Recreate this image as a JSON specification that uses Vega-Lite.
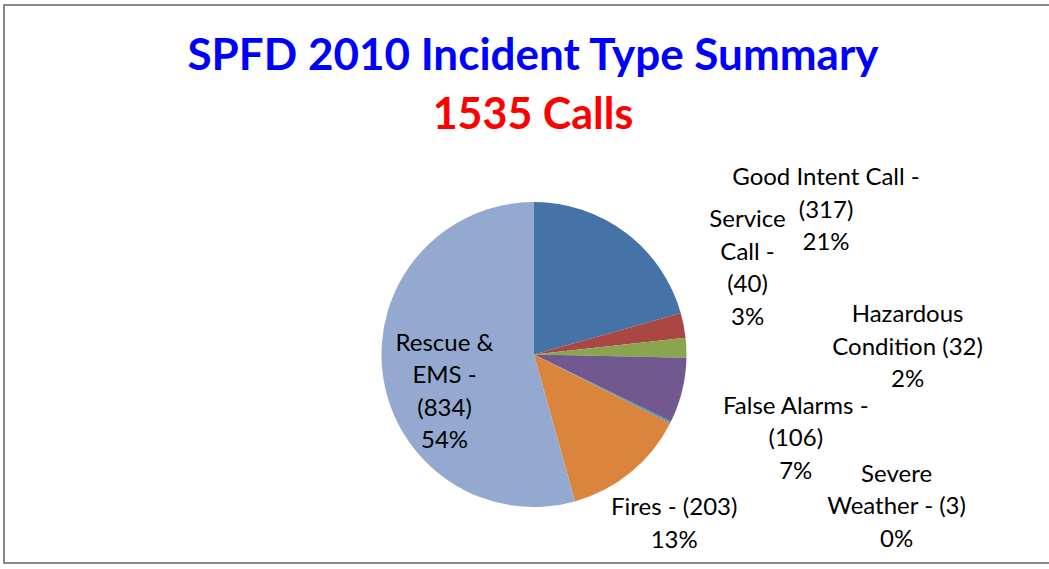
{
  "$schema": "https://vega.github.io/schema/vega-lite/v6.json",
  "width": 1045,
  "height": 558,
  "autosize": {"type": "none"},
  "padding": {"left": 4, "top": 5, "right": 0, "bottom": 6},
  "background": "white",
  "config": {"view": {"stroke": null}},
  "title": {
    "text": "SPFD 2010 Incident Type Summary",
    "subtitle": "1535 Calls",
    "anchor": "middle",
    "frame": "group",
    "orient": "top",
    "offset": -134,
    "dx": 6.5,
    "font": "Lato",
    "fontSize": 44,
    "fontWeight": "bold",
    "color": "#0000FF",
    "subtitleFont": "Lato",
    "subtitleFontSize": 43,
    "subtitleFontWeight": "bold",
    "subtitleColor": "#FF0000",
    "subtitlePadding": 16
  },
  "data": {
    "values": [
      {"category": "Good Intent Call", "count": 317, "order": 1, "label": "Good Intent Call -\n(317)\n21%"},
      {"category": "Service Call", "count": 40, "order": 2, "label": "Service\nCall -\n(40)\n3%"},
      {"category": "Hazardous Condition", "count": 32, "order": 3, "label": "Hazardous\nCondition (32)\n2%"},
      {"category": "False Alarms", "count": 106, "order": 4, "label": "False Alarms -\n(106)\n7%"},
      {"category": "Severe Weather", "count": 3, "order": 5, "label": "Severe\nWeather - (3)\n0%"},
      {"category": "Fires", "count": 203, "order": 6, "label": "Fires - (203)\n13%"},
      {"category": "Rescue & EMS", "count": 834, "order": 7, "label": "Rescue &\nEMS -\n(834)\n54%"}
    ]
  },
  "transform": [
    {"stack": "count", "groupby": [], "sort": [{"field": "order", "order": "ascending"}], "as": ["s0", "s1"]}
  ],
  "layer": [
    {
      "mark": {"type": "rect", "x": 0, "x2": {"expr": "width+8"}, "y": 0, "y2": {"expr": "height"}, "fill": null, "fillOpacity": 0, "stroke": "#8a8a8a", "strokeWidth": 1.5},
      "encoding": {}
    },
    {
      "mark": {"type": "arc", "radius": 152.5, "x": {"expr": "width/2+7.5"}, "y": {"expr": "height/2+70.5"}},
      "encoding": {
        "theta": {"field": "s0", "type": "quantitative", "stack": null, "scale": {"domain": [0, 1535]}},
        "theta2": {"field": "s1"},
        "color": {
          "field": "category",
          "type": "nominal",
          "legend": null,
          "scale": {
            "domain": ["Good Intent Call", "Service Call", "Hazardous Condition", "False Alarms", "Severe Weather", "Fires", "Rescue & EMS"],
            "range": ["#4572A7", "#AA4643", "#89A54E", "#71588F", "#4198AF", "#DB843D", "#93A9CF"]
          }
        }
      }
    },
    {
      "transform": [{"filter": "datum.order == 1"}],
      "mark": {"type": "text", "radius": 152.5, "x": {"expr": "width/2+7.5"}, "y": {"expr": "height/2+70.5"}, "dx": 292, "dy": -24, "font": "Lato", "fontSize": 24, "lineBreak": "\n", "lineHeight": 32.5, "align": "center", "baseline": "middle", "color": "black"},
      "encoding": {"theta": {"field": "s0", "type": "quantitative", "stack": null}, "text": {"field": "label"}}
    },
    {
      "transform": [{"filter": "datum.order == 2"}],
      "mark": {"type": "text", "radius": 152.5, "x": {"expr": "width/2+7.5"}, "y": {"expr": "height/2+70.5"}, "dx": 66.7, "dy": -93.3, "font": "Lato", "fontSize": 24, "lineBreak": "\n", "lineHeight": 32.5, "align": "center", "baseline": "middle", "color": "black"},
      "encoding": {"theta": {"field": "s0", "type": "quantitative", "stack": null}, "text": {"field": "label"}}
    },
    {
      "transform": [{"filter": "datum.order == 3"}],
      "mark": {"type": "text", "radius": 152.5, "x": {"expr": "width/2+7.5"}, "y": {"expr": "height/2+70.5"}, "dx": 222, "dy": -22.8, "font": "Lato", "fontSize": 24, "lineBreak": "\n", "lineHeight": 32.5, "align": "center", "baseline": "middle", "color": "black"},
      "encoding": {"theta": {"field": "s0", "type": "quantitative", "stack": null}, "text": {"field": "label"}}
    },
    {
      "transform": [{"filter": "datum.order == 4"}],
      "mark": {"type": "text", "radius": 152.5, "x": {"expr": "width/2+7.5"}, "y": {"expr": "height/2+70.5"}, "dx": 109.3, "dy": 48.9, "font": "Lato", "fontSize": 24, "lineBreak": "\n", "lineHeight": 32.5, "align": "center", "baseline": "middle", "color": "black"},
      "encoding": {"theta": {"field": "s0", "type": "quantitative", "stack": null}, "text": {"field": "label"}}
    },
    {
      "transform": [{"filter": "datum.order == 5"}],
      "mark": {"type": "text", "radius": 152.5, "x": {"expr": "width/2+7.5"}, "y": {"expr": "height/2+70.5"}, "dx": 225.6, "dy": 53.4, "font": "Lato", "fontSize": 24, "lineBreak": "\n", "lineHeight": 32.5, "align": "center", "baseline": "middle", "color": "black"},
      "encoding": {"theta": {"field": "s0", "type": "quantitative", "stack": null}, "text": {"field": "label"}}
    },
    {
      "transform": [{"filter": "datum.order == 6"}],
      "mark": {"type": "text", "radius": 152.5, "x": {"expr": "width/2+7.5"}, "y": {"expr": "height/2+70.5"}, "dx": 4.1, "dy": 85, "font": "Lato", "fontSize": 24, "lineBreak": "\n", "lineHeight": 32.5, "align": "center", "baseline": "middle", "color": "black"},
      "encoding": {"theta": {"field": "s0", "type": "quantitative", "stack": null}, "text": {"field": "label"}}
    },
    {
      "transform": [{"filter": "datum.order == 7"}],
      "mark": {"type": "text", "radius": 152.5, "x": {"expr": "width/2+7.5"}, "y": {"expr": "height/2+70.5"}, "dx": -130.5, "dy": -157.4, "font": "Lato", "fontSize": 24, "lineBreak": "\n", "lineHeight": 32.5, "align": "center", "baseline": "middle", "color": "black"},
      "encoding": {"theta": {"field": "s0", "type": "quantitative", "stack": null}, "text": {"field": "label"}}
    },
    {
      "mark": {"type": "rule", "x": 0, "x2": {"expr": "width"}, "y": {"expr": "height+4"}, "y2": {"expr": "height+4"}, "color": "#0000FF", "strokeWidth": 1.5},
      "encoding": {}
    }
  ]
}
